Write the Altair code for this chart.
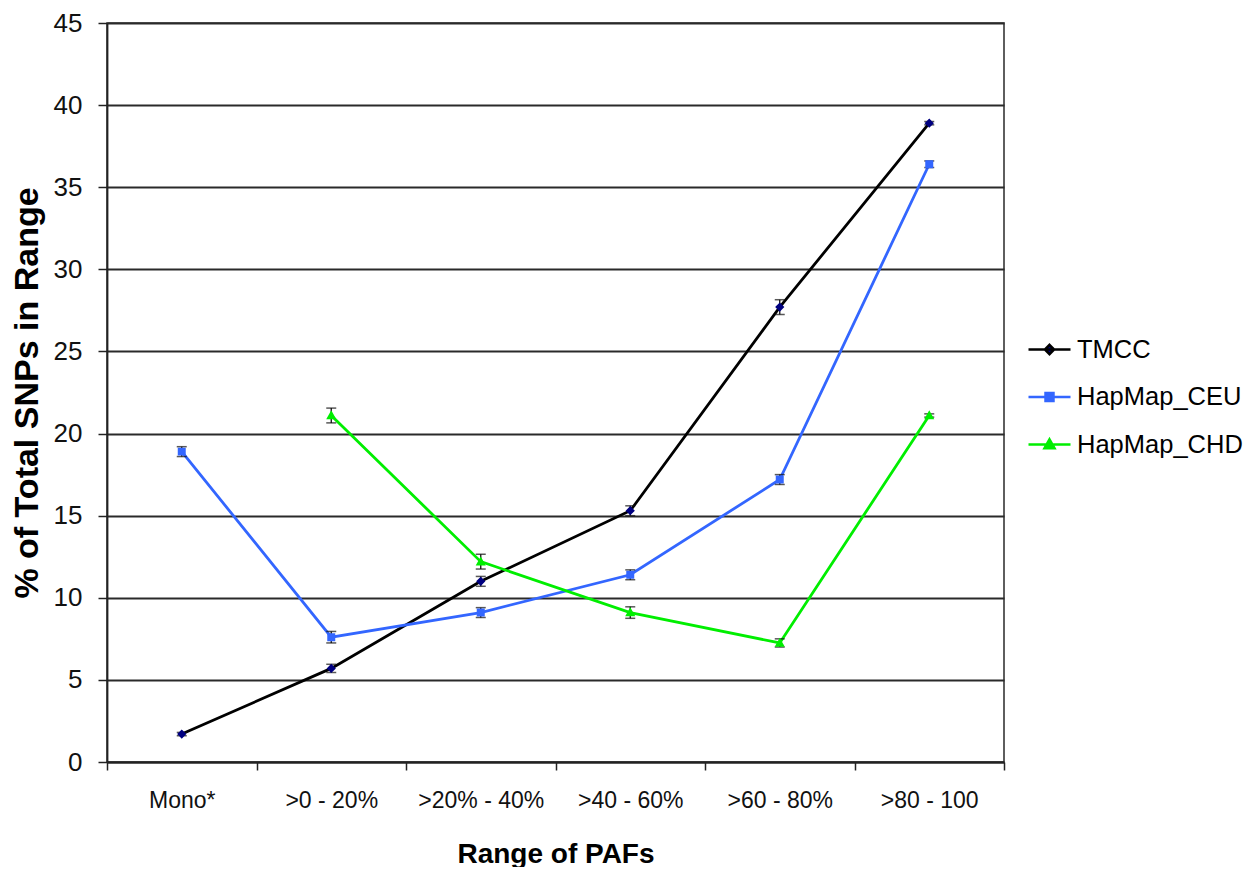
import altair as alt
import pandas as pd

categories = ["Mono*", ">0 - 20%", ">20% - 40%", ">40 - 60%", ">60 - 80%", ">80 - 100"]
series_names = ["TMCC", "HapMap_CEU", "HapMap_CHD"]

tmcc = [1.7, 5.7, 11.0, 15.3, 27.7, 38.9]
tmcc_err = [0.1, 0.25, 0.3, 0.3, 0.45, 0.1]
ceu = [18.9, 7.6, 9.1, 11.4, 17.2, 36.4]
ceu_err = [0.3, 0.35, 0.3, 0.3, 0.3, 0.2]
chd = [None, 21.1, 12.2, 9.1, 7.25, 21.1]
chd_err = [None, 0.45, 0.45, 0.35, 0.25, 0.1]

line_colors = ["#000000", "#3366FF", "#00EE00"]
marker_colors = ["#000080", "#3366FF", "#00EE00"]
# symbol paths in a [-1, 1] box: a zero-area key line plus a small marker
marker_paths = [
    "M-1,0H1M0,-0.22L0.22,0L0,0.22L-0.22,0Z",
    "M-1,0H1M-0.19,-0.19H0.19V0.19H-0.19Z",
    "M-1,0H1M0,-0.25L0.24,0.18H-0.24Z",
]

rows = []
for name, vals, errs in [("TMCC", tmcc, tmcc_err), ("HapMap_CEU", ceu, ceu_err), ("HapMap_CHD", chd, chd_err)]:
    for c, v, e in zip(categories, vals, errs):
        if v is None:
            continue
        rows.append({"range": c, "series": name, "value": v, "lo": v - e, "hi": v + e})
df = pd.DataFrame(rows)

FONT = "Liberation Sans, Arial"
BOX = 1764  # 42 px symbol box

xenc = alt.X("range:N", sort=categories,
             scale=alt.Scale(type="band", paddingInner=0, paddingOuter=0),
             axis=alt.Axis(title="Range of PAFs", tickBand="extent", labelAngle=0,
                           labelFont=FONT, labelFontSize=23, labelColor="#111",
                           labelPadding=19, tickSize=8, tickWidth=1.5, tickColor="#222",
                           domainColor="#222", domainWidth=1.8, grid=False,
                           titleFont=FONT, titleFontSize=28, titleFontWeight="bold",
                           titleColor="#000", titlePadding=28))
yscale = alt.Scale(domain=[0, 45], nice=False, zero=True)

legend_common = dict(title=None, orient="none", legendX=920, legendY=304,
                     symbolSize=BOX, symbolStrokeWidth=2.5,
                     labelFont=FONT, labelFontSize=25.5, labelColor="#000",
                     labelOffset=5, rowPadding=11.5, padding=0, labelLimit=400)

lines = alt.Chart(df).mark_line(strokeWidth=2.8).encode(
    x=xenc,
    y=alt.Y("value:Q", scale=yscale,
            axis=alt.Axis(title="% of Total SNPs in Range", values=list(range(0, 50, 5)),
                          labelFont=FONT, labelFontSize=26, labelColor="#111", labelPadding=16,
                          tickSize=9, tickWidth=1.5, tickColor="#222",
                          domainColor="#222", domainWidth=1.8,
                          grid=True, gridColor="#2a2a2a", gridWidth=1.8,
                          titleFont=FONT, titleFontSize=34, titleFontWeight="bold",
                          titleColor="#000", titlePadding=9)),
    color=alt.Color("series:N", sort=series_names,
                    scale=alt.Scale(domain=series_names, range=line_colors),
                    legend=alt.Legend(**legend_common)),
)

err_rule = alt.Chart(df).mark_rule(color="#111", strokeWidth=1.3).encode(
    x=alt.X("range:N", sort=categories), y=alt.Y("lo:Q", scale=yscale), y2="hi:Q")
cap_lo = alt.Chart(df).mark_tick(color="#111", size=10, thickness=1.5).encode(
    x=alt.X("range:N", sort=categories), y=alt.Y("lo:Q", scale=yscale))
cap_hi = alt.Chart(df).mark_tick(color="#111", size=10, thickness=1.5).encode(
    x=alt.X("range:N", sort=categories), y=alt.Y("hi:Q", scale=yscale))

points = alt.Chart(df).mark_point(filled=True, opacity=1, size=BOX).encode(
    x=alt.X("range:N", sort=categories),
    y=alt.Y("value:Q", scale=yscale),
    fill=alt.Fill("series:N", sort=series_names,
                  scale=alt.Scale(domain=series_names, range=marker_colors),
                  legend=alt.Legend(**legend_common)),
    shape=alt.Shape("series:N", sort=series_names,
                    scale=alt.Scale(domain=series_names, range=marker_paths),
                    legend=alt.Legend(**legend_common)),
)

chart = alt.layer(lines, err_rule, cap_lo, cap_hi, points).properties(
    width=897, height=739,
    autosize=alt.AutoSizeParams(type="none"),
    padding={"left": 99, "top": 15, "right": 243, "bottom": 105},
    background="white",
).configure_view(stroke="#2a2a2a", strokeWidth=1.5)

chart.save("out.html", embed_options={"renderer": "svg", "actions": False})
